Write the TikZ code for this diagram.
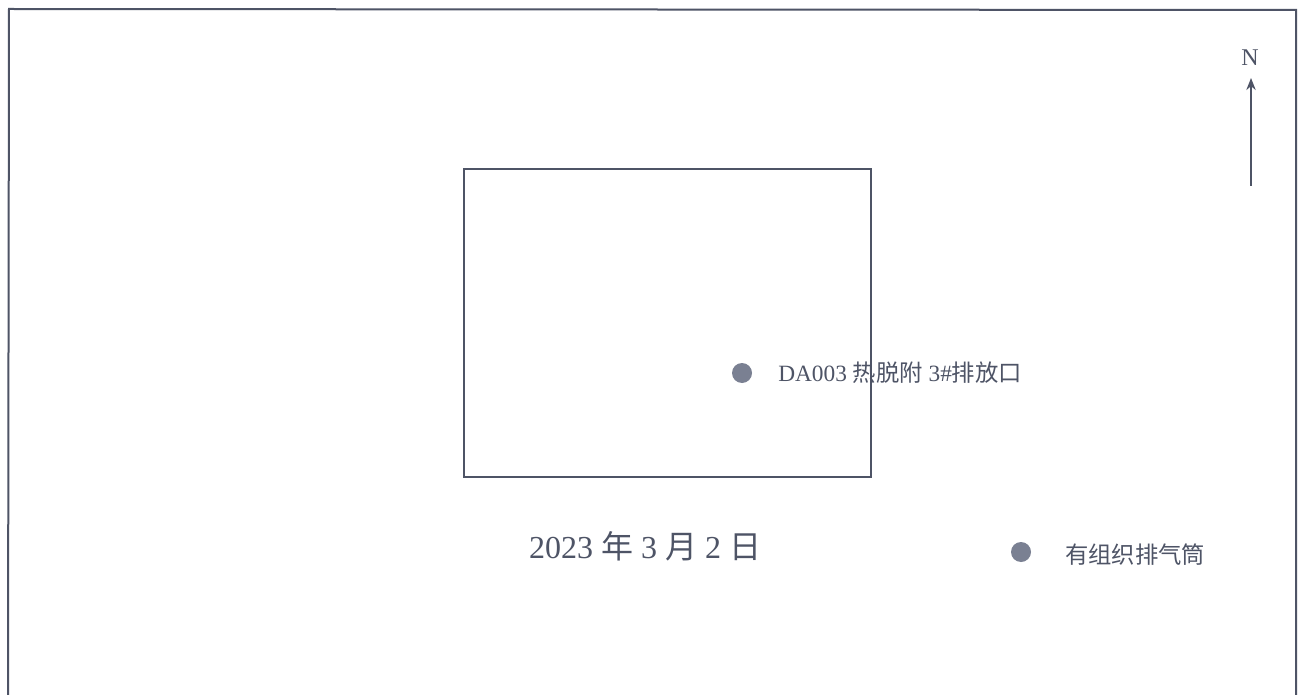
\documentclass[tikz,border=0pt]{standalone}
\usepackage{fontspec}
\usetikzlibrary{arrows.meta}
\setmainfont{Liberation Serif}
\newfontfamily\cjk{Noto Sans CJK SC}
\definecolor{ink}{HTML}{4E5466}
\definecolor{dotc}{HTML}{7A8092}
\begin{document}
\begin{tikzpicture}[x=0.75pt,y=-0.75pt,
  frameline/.style={draw=ink,line width=1.5pt},
  site/.style={frameline,line width=1.3pt},
  marker/.style={circle,fill=dotc,minimum size=15pt,inner sep=0pt},
  lbl/.style={anchor=west,inner sep=0pt,text=ink,font=\fontsize{17.5pt}{19pt}\selectfont},
  datelbl/.style={inner sep=0pt,text=ink,font=\fontsize{24pt}{28pt}\selectfont}]
\useasboundingbox (0,0) rectangle (1298,695);
\fill[white] (0,0) rectangle (1298,695);
% outer frame (bottom cut off)
\coordinate (fbl) at (8,696);
\coordinate (ftl) at (9,9);
\coordinate (ftr) at (1296,10);
\coordinate (fbr) at (1296,696);
\draw[frameline] (fbl) -- (ftl) -- (ftr) -- (fbr);
% site rectangle
\node[site,minimum width=407*0.75pt,minimum height=308*0.75pt,inner sep=0pt] (plant) at (667.5,323) {};
% outlet
\node[marker] (da003) at (742,373) {};
\node[lbl] (da003l) at (778,373) {DA003 {\cjk 热脱附} 3\#{\cjk 排放口}};
% date
\node[datelbl] (date) at (645,546) {2023 {\cjk 年} 3 {\cjk 月} 2 {\cjk 日}};
% legend
\node[marker] (legdot) at (1021,552) {};
\node[lbl] (legl) at (1065,555) {\cjk 有组织排气筒};
% north arrow
\node[text=ink,inner sep=0pt,font=\fontsize{18pt}{20pt}\selectfont] (north) at (1250,58) {N};
\coordinate (ntail) at (1251,186);
\coordinate (nhead) at (1251,78);
\draw[ink,line width=1.4pt,-{Stealth[length=9pt,width=7pt]}] (ntail) -- (nhead);
\end{tikzpicture}
\end{document}
